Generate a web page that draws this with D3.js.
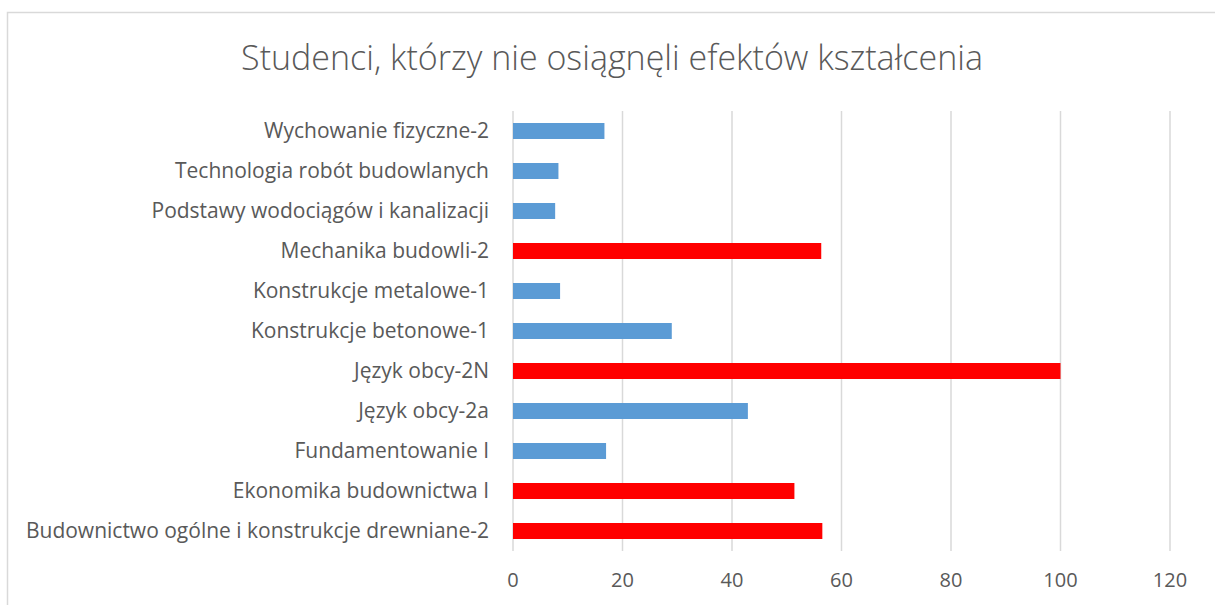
<!DOCTYPE html>
<html>
<head>
<meta charset="utf-8">
<script src="https://cdn.jsdelivr.net/npm/d3@7"></script>
<style>
  body { margin: 0; background: #fff; }
  text { font-family: "Open Sans", Lato, sans-serif; fill: #595959; }
</style>
</head>
<body>
<div id="chart"></div>
<script>
// categories, bottom to top as in the source sheet
const subjects = [
  "Budownictwo ogólne i konstrukcje drewniane-2",
  "Ekonomika budownictwa I",
  "Fundamentowanie I",
  "Język obcy-2a",
  "Język obcy-2N",
  "Konstrukcje betonowe-1",
  "Konstrukcje metalowe-1",
  "Mechanika budowli-2",
  "Podstawy wodociągów i kanalizacji",
  "Technologia robót budowlanych",
  "Wychowanie fizyczne-2"
];
const values = [56.5, 51.4, 17.0, 42.9, 100, 29.0, 8.6, 56.3, 7.7, 8.3, 16.7];
const flagged = [true, true, false, false, true, false, false, true, false, false, false];
const xTicks = [0, 20, 40, 60, 80, 100, 120];

function drawChart() {
    const W = 1215, H = 605;
    let margin = {top: 111, left: 513, right: 45, bottom: 54};

    let svg = d3.select("#chart")
        .append("svg")
        .attr("width", W)
        .attr("height", H);

    // chart area frame
    svg.append("rect")
        .attr("x", 7.5).attr("y", 12.5)
        .attr("width", W + 20).attr("height", H + 20)
        .attr("fill", "none")
        .attr("stroke", "#d9d9d9")
        .attr("stroke-width", 1.5);

    svg.append("text")
        .attr("x", 612)
        .attr("y", 70)
        .attr("text-anchor", "middle")
        .style("font-size", "34px")
        .style("font-weight", 300)
        .text("Studenci, którzy nie osiągnęli efektów kształcenia");

    var x = d3.scaleLinear()
        .domain([0, 120])
        .range([margin.left, 1170]);

    var y = d3.scaleBand()
        .domain(subjects)
        .range([H - margin.bottom, margin.top])
        .paddingInner(0.6)
        .paddingOuter(0.3);

    // vertical gridlines
    svg.append("g")
        .selectAll("line")
        .data(xTicks)
        .enter()
        .append("line")
        .attr("x1", d => x(d)).attr("x2", d => x(d))
        .attr("y1", margin.top).attr("y2", H - margin.bottom)
        .attr("stroke", "#d9d9d9")
        .attr("stroke-width", 1.5);

    // bars
    svg.append("g")
        .selectAll("rect")
        .data(subjects)
        .enter()
        .append("rect")
        .attr("x", x(0))
        .attr("y", d => y(d))
        .attr("height", y.bandwidth())
        .attr("width", (d, i) => x(values[i]) - x(0))
        .attr("fill", (d, i) => flagged[i] ? "#ff0000" : "#5b9bd5");

    // category labels
    svg.append("g")
        .selectAll("text")
        .data(subjects)
        .enter()
        .append("text")
        .attr("x", 489)
        .attr("y", d => y(d) + y.bandwidth() / 2)
        .attr("dy", "0.35em")
        .attr("text-anchor", "end")
        .style("font-size", "21px")
        .text(d => d);

    // value axis labels
    svg.append("g")
        .selectAll("text")
        .data(xTicks)
        .enter()
        .append("text")
        .attr("x", d => x(d))
        .attr("y", 580)
        .attr("dy", "0.35em")
        .attr("text-anchor", "middle")
        .style("font-size", "20px")
        .text(d => d);
}
drawChart();
</script>
</body>
</html>
